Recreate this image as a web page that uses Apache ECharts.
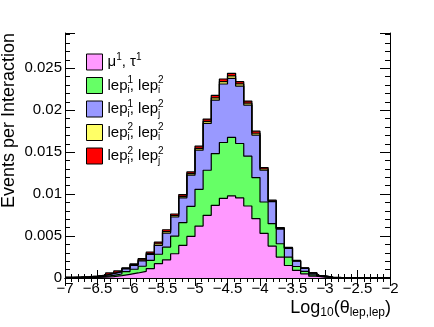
<!DOCTYPE html>
<html>
<head>
<meta charset="utf-8">
<script src="https://cdn.jsdelivr.net/npm/echarts@6/dist/echarts.min.js"></script>
<style>
  html, body { margin: 0; padding: 0; background: #fff; }
  #chart { width: 434px; height: 327px; }
</style>
</head>
<body>
<div id="chart"></div>
<script>
// binning of the histogram: 40 bins from -7 to -2
var binStart = -7;
var binWidth = 0.125;

// series names (legend order = stack order, bottom first)
var seriesNames = ['mu_tau', 'lep1i_lep2i', 'lep1i_lep2j', 'lep2i_lep2i', 'lep2i_lep2j'];
var seriesColors = ['#ff99ff', '#66ff66', '#9999ff', '#ffff66', '#ff0000'];

// per-bin contributions (events per interaction)
var muTau = [0.00003, 0.00004, 0.00006, 0.00008, 0.00011, 0.00016, 0.00028, 0.00044, 0.0006, 0.0008,
             0.00112, 0.00171, 0.00217, 0.00289, 0.00388, 0.00496, 0.00619, 0.00747, 0.00866, 0.0095,
             0.00978, 0.00954, 0.00858, 0.00707, 0.00532, 0.0038, 0.00249, 0.00149, 0.0009, 0.0005,
             0.00022, 0.0001, 0.00004, 0.00002, 0.00001, 0.00001, 0, 0, 0, 0];
var lep1iLep2i = [0.00002, 0.00003, 0.00004, 0.00006, 0.00009, 0.00016, 0.0002, 0.00032, 0.00044, 0.0006,
                  0.00099, 0.00112, 0.00151, 0.00211, 0.00271, 0.00358, 0.00438, 0.00537, 0.00617, 0.00665,
                  0.00697, 0.00649, 0.00594, 0.0049, 0.00374, 0.00267, 0.00159, 0.001, 0.00047, 0.00028,
                  0.00016, 0.00006, 0.00003, 0.00002, 0.00001, 0.00001, 0.00001, 0.00001, 0, 0];
var lep1iLep2j = [0.00002, 0.00003, 0.00004, 0.00006, 0.00011, 0.0002, 0.00026, 0.00032, 0.00047, 0.00065,
                  0.00069, 0.00107, 0.00168, 0.00227, 0.00295, 0.00371, 0.00466, 0.00558, 0.00638, 0.00697,
                  0.00705, 0.00685, 0.00609, 0.00506, 0.00378, 0.00263, 0.00175, 0.00103, 0.00064, 0.00036,
                  0.0002, 0.00008, 0.00002, 0.00002, 0.00002, 0.00001, 0.00001, 0, 0.00001, 0.00001];
var lep2iLep2i = [0, 0.00001, 0.00001, 0.00002, 0.00002, 0.00004, 0.00005, 0.00006, 0.00008, 0.00012,
                  0.00014, 0.00018, 0.00018, 0.00017, 0.00019, 0.00018, 0.00023, 0.00025, 0.00026, 0.00029,
                  0.00028, 0.00025, 0.00023, 0.00022, 0.00015, 0.00008, 0.00008, 0.00005, 0.00004, 0.00003,
                  0.00002, 0.00001, 0, 0, 0, 0, 0, 0, 0, 0];
var lep2iLep2j = [0.00001, 0.00001, 0.00001, 0.00002, 0.00003, 0.00004, 0.00005, 0.00006, 0.00009, 0.00013,
                  0.00016, 0.0002, 0.00021, 0.00019, 0.00021, 0.00021, 0.00025, 0.00027, 0.00029, 0.00031,
                  0.00031, 0.00027, 0.00025, 0.00025, 0.00017, 0.0001, 0.00009, 0.00007, 0.00004, 0.00004,
                  0.00002, 0.00001, 0.00001, 0.00001, 0.00001, 0, 0.00001, 0.00001, 0, 0];

// legend labels (rich text)
var legendLabels = {
    'mu_tau': 'μ{supw|1}, τ{supw|1}',
    'lep1i_lep2i': 'lep{sup|1}{sub|i}, lep{sup|2}{sub|i}',
    'lep1i_lep2j': 'lep{sup|1}{sub|i}, lep{sup|2}{sub|j}',
    'lep2i_lep2i': 'lep{sup|2}{sub|i}, lep{sup|2}{sub|i}',
    'lep2i_lep2j': 'lep{sup|2}{sub|i}, lep{sup|2}{sub|j}'
};

var allValues = [muTau, lep1iLep2i, lep1iLep2j, lep2iLep2i, lep2iLep2j];

// stack the layers ourselves (THStack style), bottom layer first
var cumulative = [];
var running = muTau.map(function () { return 0; });
for (var k = 0; k < allValues.length; k++) {
    running = running.map(function (v, i) { return v + allValues[k][i]; });
    cumulative.push(running);
}

// turn per-bin values into step points at bin edges
function stepPoints(vals) {
    var pts = [];
    for (var i = 0; i < vals.length; i++) {
        pts.push([binStart + i * binWidth, vals[i]]);
    }
    pts.push([binStart + vals.length * binWidth, vals[vals.length - 1]]);
    return pts;
}

var FONT = 'Liberation Sans, Arial, Helvetica, sans-serif';
var chart = echarts.init(document.getElementById('chart'), null, {renderer: 'canvas'});

// top layer first, so lower layers paint over it
var series = [];
for (var s = seriesNames.length - 1; s >= 0; s--) {
    series.push({
        name: seriesNames[s],
        type: 'line',
        step: 'end',
        symbol: 'none',
        data: stepPoints(cumulative[s]),
        color: seriesColors[s],
        lineStyle: {color: '#000', width: 1.2},
        areaStyle: {color: seriesColors[s], opacity: 1, origin: 'start'},
        itemStyle: {color: seriesColors[s]},
        emphasis: {disabled: true},
        silent: true
    });
}

function xLabel(v) {
    return String(v).replace('-', '\u2212');
}

var axisCommon = {
    axisLine: {show: true, lineStyle: {color: '#000', width: 1}},
    splitLine: {show: false},
    minorSplitLine: {show: false}
};

var option = {
    animation: false,
    backgroundColor: '#fff',
    grid: {left: 65, right: 44, top: 33, bottom: 49},
    legend: {
        orient: 'vertical',
        left: 81,
        top: 47,
        itemWidth: 16,
        itemHeight: 16,
        itemGap: 3.5,
        icon: 'rect',
        selectedMode: false,
        data: seriesNames.map(function (n, i) {
            return {name: n, itemStyle: {color: seriesColors[i], borderColor: '#000', borderWidth: 1}};
        }),
        formatter: function (name) { return legendLabels[name]; },
        textStyle: {
            fontFamily: FONT, fontSize: 15, color: '#000', lineHeight: 20,
            rich: {
                sup: {fontFamily: FONT, fontSize: 10, color: '#000', lineHeight: 10, verticalAlign: 'top', width: 0},
                supw: {fontFamily: FONT, fontSize: 10, color: '#000', lineHeight: 10, verticalAlign: 'top'},
                sub: {fontFamily: FONT, fontSize: 10, color: '#000', lineHeight: 8, verticalAlign: 'bottom'}
            }
        }
    },
    xAxis: [
        Object.assign({
            type: 'value', position: 'bottom', min: -7, max: -2, interval: 0.5,
            axisTick: {show: true, inside: true, length: 8, lineStyle: {color: '#000'}},
            minorTick: {show: true, splitNumber: 5, length: 4, lineStyle: {color: '#000'}},
            axisLabel: {fontFamily: FONT, fontSize: 15, color: '#000', margin: 3, formatter: xLabel}
        }, axisCommon),
        Object.assign({
            type: 'value', position: 'top', min: -7, max: -2, interval: 0.5,
            axisTick: {show: true, inside: true, length: 8, lineStyle: {color: '#000'}},
            minorTick: {show: true, splitNumber: 5, length: 4, lineStyle: {color: '#000'}},
            axisLabel: {show: false}
        }, axisCommon)
    ],
    yAxis: [
        Object.assign({
            type: 'value', position: 'left', min: 0, max: 0.0292, interval: 0.005,
            axisTick: {show: true, inside: true, length: 10, lineStyle: {color: '#000'}},
            minorTick: {show: true, splitNumber: 5, length: 5, lineStyle: {color: '#000'}},
            axisLabel: {fontFamily: FONT, fontSize: 15, color: '#000', margin: 3, showMaxLabel: false}
        }, axisCommon),
        Object.assign({
            type: 'value', position: 'right', min: 0, max: 0.0292, interval: 0.005,
            axisTick: {show: true, inside: true, length: 10, lineStyle: {color: '#000'}},
            minorTick: {show: true, splitNumber: 5, length: 5, lineStyle: {color: '#000'}},
            axisLabel: {show: false}
        }, axisCommon)
    ],
    graphic: [
        {
            type: 'text', x: 9, y: 33, rotation: Math.PI / 2, silent: true,
            style: {
                text: 'Events per Interaction', fontFamily: FONT, fontSize: 18, fill: '#000',
                textAlign: 'right', textVerticalAlign: 'middle'
            }
        },
        {
            type: 'text', x: 391, y: 308, silent: true,
            style: {
                text: 'Log{sub|10}(θ{sub|lep,lep})', fontFamily: FONT, fontSize: 18, fill: '#000',
                textAlign: 'right', textVerticalAlign: 'middle', lineHeight: 22,
                rich: {
                    sub: {fontFamily: FONT, fontSize: 12, fill: '#000', lineHeight: 12, verticalAlign: 'bottom'}
                }
            }
        }
    ],
    series: series
};

chart.setOption(option);
</script>
</body>
</html>
